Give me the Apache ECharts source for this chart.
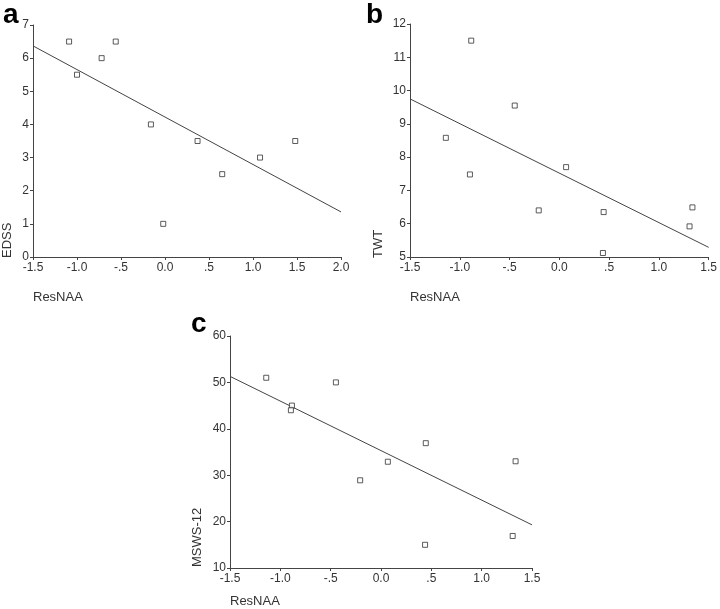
<!DOCTYPE html>
<html><head><meta charset="utf-8">
<script src="https://cdn.jsdelivr.net/npm/echarts@6/dist/echarts.min.js"></script>
<style>html,body{margin:0;padding:0;background:#fff}#c{width:720px;height:609px}</style>
</head><body><div id="c"></div>
<script>
// Panel a: EDSS vs ResNAA
const aX = [-1.09, -1.00, -0.72, -0.56, -0.16, -0.02, 0.37, 0.65, 1.08, 1.48];
const aY = [6.5, 5.5, 6.0, 6.5, 4.0, 1.0, 3.5, 2.5, 3.0, 3.5];
const aFit = [[-1.5, 6.37], [2.0, 1.36]];
// Panel b: TWT vs ResNAA
const bX = [-0.885, -1.14, -0.898, -0.448, -0.207, 0.068, 0.445, 0.438, 1.308, 1.337];
const bY = [11.5, 8.58, 7.48, 9.55, 6.4, 7.7, 6.35, 5.12, 5.92, 6.49];
const bFit = [[-1.5, 9.75], [1.5, 5.29]];
// Panel c: MSWS-12 vs ResNAA
const cX = [-1.14, -0.885, -0.895, -0.448, -0.207, 0.068, 0.445, 0.438, 1.308, 1.337];
const cY = [51.0, 45.0, 44.0, 50.0, 28.9, 32.9, 36.9, 15.0, 16.9, 33.0];
const cFit = [[-1.5, 51.3], [1.5, 19.3]];
const xName = "ResNAA";
const yNames = ["EDSS", "TWT", "MSWS-12"];
const letters = ["a", "b", "c"];

const FONT = "Liberation Sans, Arial, sans-serif";
const fmtX = v => {
  if (Math.abs(v) < 1e-9) return "0.0";
  if (Math.abs(v) < 1) return (v < 0 ? "-" : "") + ".5";
  return v.toFixed(1);
};
const axisCommon = {
  axisLine: {show: true, onZero: false, lineStyle: {color: "#444", width: 1}},
  axisTick: {show: true, length: 3, lineStyle: {color: "#444"}},
  splitLine: {show: false},
  axisLabel: {color: "#333", fontSize: 12, fontFamily: FONT}
};
const grids = [
  {left: 33, top: 25, width: 308, height: 232},
  {left: 410, top: 24, width: 302, height: 233},
  {left: 230, top: 336, width: 302, height: 232}
];
const mkX = (i, max) => Object.assign({}, axisCommon, {type: "value", gridIndex: i, min: -1.5, max: max, interval: 0.5,
  axisLabel: Object.assign({}, axisCommon.axisLabel, {formatter: fmtX, margin: 5})});
const mkY = (i, min, max, iv) => Object.assign({}, axisCommon, {type: "value", gridIndex: i, min: min, max: max, interval: iv,
  axisLabel: Object.assign({}, axisCommon.axisLabel, {margin: 4})});
const xAxes = [mkX(0, 2.0), mkX(1, 1.5), mkX(2, 1.5)];
const yAxes = [mkY(0, 0, 7, 1), mkY(1, 5, 12, 1), mkY(2, 10, 60, 10)];
const zip = (xs, ys) => xs.map((x, i) => [x, ys[i]]);
const scatter = (i, d) => ({type: "scatter", xAxisIndex: i, yAxisIndex: i, data: d, symbol: "rect", symbolSize: 5,
  itemStyle: {color: "#fff", borderColor: "#333", borderWidth: 1}, silent: true, z: 3});
const fit = (i, d) => ({type: "line", xAxisIndex: i, yAxisIndex: i, data: d, symbol: "none",
  lineStyle: {color: "#444", width: 1}, silent: true, z: 2});

const txt = (x, y, s, opts) => ({type: "text", x: x, y: y, rotation: (opts && opts.rot) || 0,
  style: Object.assign({text: s, fill: "#333", font: "13px " + FONT}, (opts && opts.style) || {})});

const graphic = [
  txt(3, 1, letters[0], {style: {font: "bold 28px " + FONT, fill: "#000"}}),
  txt(366, 1, letters[1], {style: {font: "bold 28px " + FONT, fill: "#000"}}),
  txt(191, 310, letters[2], {style: {font: "bold 28px " + FONT, fill: "#000"}}),
  txt(33, 291, xName, {}),
  txt(410, 291, xName, {}),
  txt(230, 595, xName, {}),
  txt(1, 258, yNames[0], {rot: Math.PI / 2}),
  txt(372, 258, yNames[1], {rot: Math.PI / 2}),
  txt(191, 567, yNames[2], {rot: Math.PI / 2})
];

const chart = echarts.init(document.getElementById("c"), null, {renderer: "canvas"});
chart.setOption({
  animation: false,
  backgroundColor: "#fff",
  grid: grids,
  xAxis: xAxes,
  yAxis: yAxes,
  series: [
    fit(0, aFit), scatter(0, zip(aX, aY)),
    fit(1, bFit), scatter(1, zip(bX, bY)),
    fit(2, cFit), scatter(2, zip(cX, cY))
  ],
  graphic: graphic
});
</script></body></html>
